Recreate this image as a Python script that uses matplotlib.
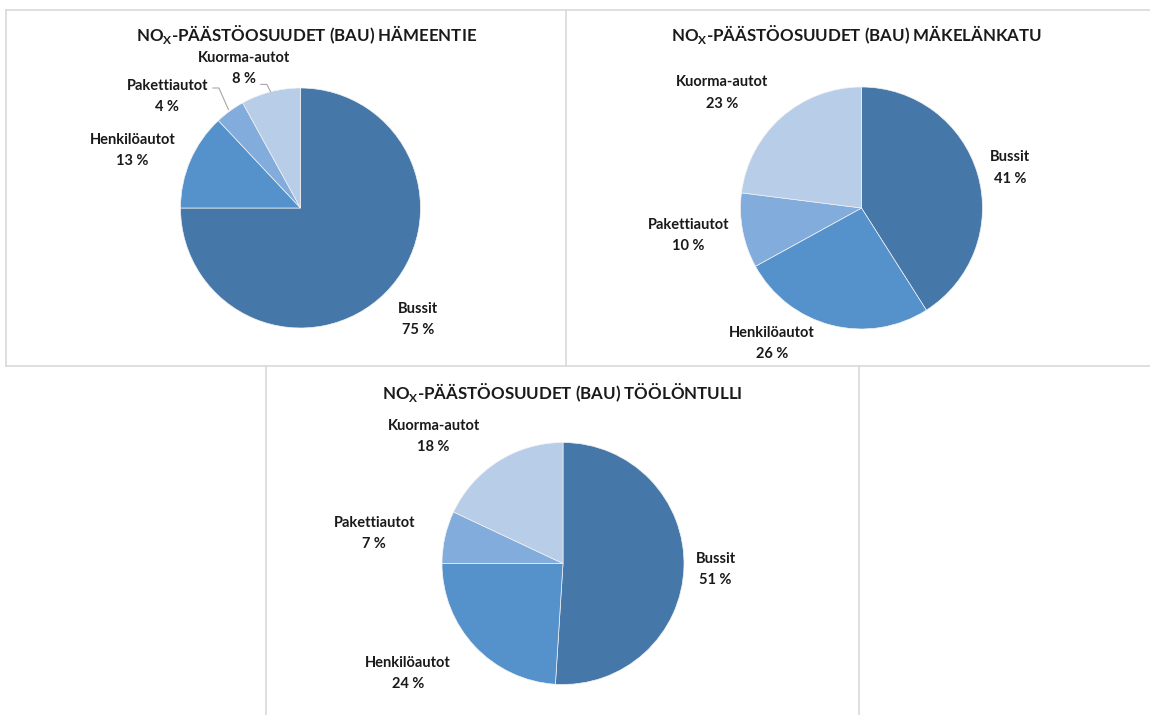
import matplotlib.pyplot as plt
from matplotlib.lines import Line2D

plt.rcParams['font.family'] = ['Lato', 'DejaVu Sans']
plt.rcParams['mathtext.fontset'] = 'custom'
plt.rcParams['mathtext.rm'] = 'Lato'
plt.rcParams['mathtext.bf'] = 'Lato:bold'

# data
categories = ['Bussit', 'Henkilöautot', 'Pakettiautot', 'Kuorma-autot']
hameentie = [75, 13, 4, 8]
makelankatu = [41, 26, 10, 23]
toolontulli = [51, 24, 7, 18]
places = ['HÄMEENTIE', 'MÄKELÄNKATU', 'TÖÖLÖNTULLI']

colors = ['#4677A9', '#5591CB', '#82ACDC', '#B8CDE8']

W, H = 1150, 715
fig = plt.figure(figsize=(W / 100, H / 100), dpi=100)
ax = fig.add_axes([0, 0, 1, 1])

# panel borders (pixel coords, y from top)
border = '#D9D9D9'
def hline(y, x0, x1):
    ax.add_line(Line2D([x0, x1], [H - y, H - y], color=border, lw=1.2))
def vline(x, y0, y1):
    ax.add_line(Line2D([x, x], [H - y0, H - y1], color=border, lw=1.2))
hline(10, 6, W)
hline(366, 6, W)
vline(6, 10, 366)
vline(566, 10, 366)
vline(266, 366, H)
vline(859, 366, H)

# layout: pie center (px, from top), radius, title position, label positions in radius units
layouts = [
    dict(c=(300.5, 208), r=120, title=(307, 35),
         labels=[(0.98, -0.93), (-1.40, 0.48), (-1.11, 0.93), (-0.47, 1.16)]),
    dict(c=(861.5, 208), r=121, title=(857, 35),
         labels=[(1.23, 0.33), (-0.74, -1.12), (-1.43, -0.23), (-1.15, 0.95)]),
    dict(c=(563, 563.5), r=121, title=(562, 392),
         labels=[(1.26, -0.05), (-1.28, -0.91), (-1.56, 0.25), (-1.07, 1.05)]),
]

for vals, place, lay in zip([hameentie, makelankatu, toolontulli], places, layouts):
    cx, cy = lay['c'][0], H - lay['c'][1]
    r = lay['r']
    ax.pie(vals, colors=colors, startangle=90, counterclock=False,
           center=(cx, cy), radius=r,
           wedgeprops=dict(edgecolor='#F2F2F2', linewidth=0.5))
    tx, ty = lay['title']
    ax.text(tx, H - ty, r'NO$_\mathbf{X}$-PÄÄSTÖOSUUDET (BAU) ' + place,
            ha='center', va='center', fontsize=12.2, fontweight='bold', color='#1a1a1a')
    for cat, v, (lx, ly) in zip(categories, vals, lay['labels']):
        ax.text(cx + lx * r, cy + ly * r, f'{cat}\n{v} %', ha='center', va='center',
                fontsize=10.5, fontweight='bold', color='#1a1a1a', linespacing=1.65)

# leader lines for small slices (Hämeentie)
lay = layouts[0]
cx, cy, r = lay['c'][0], H - lay['c'][1], lay['r']
leaders = [
    [(-0.73, 1.0), (-0.68, 1.0), (-0.60, 0.82)],
    [(-0.33, 1.03), (-0.28, 1.03), (-0.25, 0.97)],
]
for pts in leaders:
    ax.add_line(Line2D([cx + p[0] * r for p in pts], [cy + p[1] * r for p in pts],
                       color='#A6A6A6', lw=0.8))

ax.set_xlim(0, W)
ax.set_ylim(0, H)
ax.set_aspect('equal')
ax.axis('off')

fig.savefig('out.png', dpi=100, facecolor='white')
